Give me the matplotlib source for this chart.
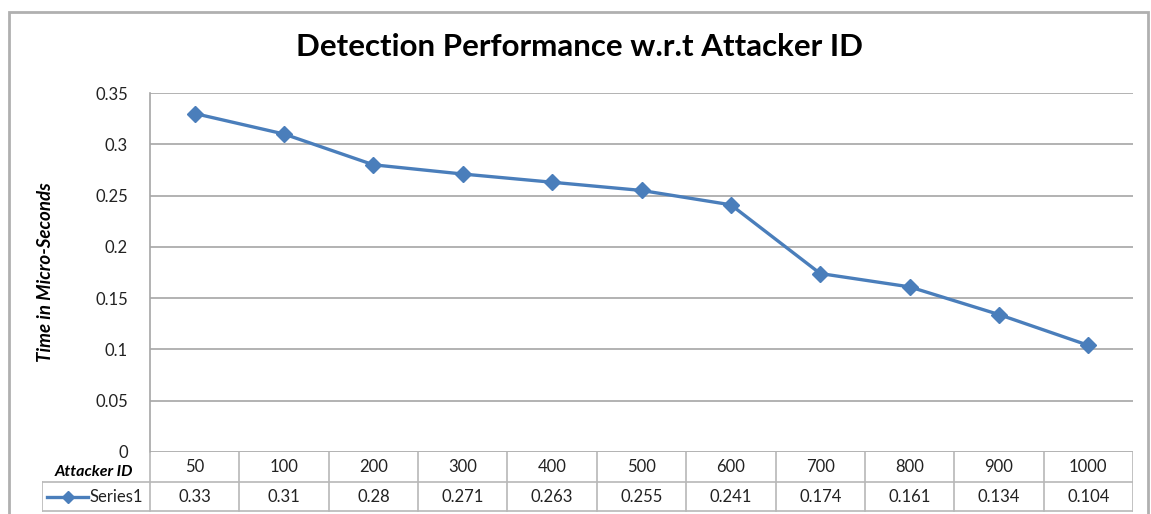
import matplotlib.pyplot as plt
from matplotlib.lines import Line2D

plt.rcParams['font.family'] = ['Lato', 'DejaVu Sans']

attacker_ids = ['50', '100', '200', '300', '400', '500', '600', '700', '800', '900', '1000']
times = [0.33, 0.31, 0.28, 0.271, 0.263, 0.255, 0.241, 0.174, 0.161, 0.134, 0.104]
series_name = 'Series1'
yticks = [0, 0.05, 0.1, 0.15, 0.2, 0.25, 0.3, 0.35]

W, H = 1151, 514
line_col = '#4a7ebb'
grid_col = '#a6a6a6'

fig = plt.figure(figsize=(W / 100, H / 100), dpi=100)

def px(x0, y0, x1, y1):
    return [x0 / W, 1 - y1 / H, (x1 - x0) / W, (y1 - y0) / H]

# outer chart border
fig.add_artist(plt.Rectangle((9 / W, -0.01), (1148 - 9) / W, 1 - 12 / H + 0.01,
                             transform=fig.transFigure, fill=False,
                             edgecolor='#b0b0b0', lw=2))

ax = fig.add_axes(px(150, 93, 1133, 452))
n = len(times)
xs = list(range(n))
ax.plot(xs, times, color=line_col, lw=2.4, marker='D', markersize=8.5,
        markerfacecolor=line_col, markeredgecolor=line_col)
ax.set_xlim(-0.5, n - 0.5)
ax.set_ylim(0, 0.35)
ax.set_yticks(yticks)
ax.set_yticklabels(['0', '0.05', '0.1', '0.15', '0.2', '0.25', '0.3', '0.35'])
ax.tick_params(axis='y', length=0, labelsize=12, pad=16, colors='#222222')
ax.set_xticks([])
ax.grid(axis='y', color=grid_col, lw=1.2)
ax.set_axisbelow(True)
for s in ['top', 'right', 'bottom']:
    ax.spines[s].set_visible(False)
ax.spines['left'].set_color(grid_col)
ax.spines['left'].set_linewidth(1.2)

fig.text(580 / W, 1 - 47 / H, 'Detection Performance w.r.t Attacker ID',
         ha='center', va='center', fontsize=22.5, fontweight='bold')
fig.text(46 / W, 1 - 272 / H, 'Time in Micro-Seconds', rotation=90,
         ha='center', va='center', fontsize=13.5, fontweight='bold', style='italic')

# data table below the plot
tab = fig.add_axes(px(42, 452, 1133, 512))
tab.set_xlim(42, 1133)
tab.set_ylim(512, 452)
tab.axis('off')
colw = (1133 - 150) / n
tcol = '#b8b8b8'
tab.plot([150, 1133], [482, 482], color=tcol, lw=1.2)
tab.plot([42, 1133], [511, 511], color=tcol, lw=1.2)
tab.plot([42, 150], [482, 482], color=tcol, lw=1.2)
tab.plot([42, 42], [482, 511], color=tcol, lw=1.2)
for i in range(n + 1):
    xb = 150 + i * colw
    tab.plot([xb, xb], [452, 511], color=tcol, lw=1.2)
for i in range(n):
    xc = 150 + (i + 0.5) * colw
    tab.text(xc, 467, attacker_ids[i], ha='center', va='center', fontsize=12, color='#222222')
    tab.text(xc, 497, f'{times[i]:g}', ha='center', va='center', fontsize=12, color='#222222')
tab.text(133, 471.5, 'Attacker ID', ha='right', va='center', fontsize=11.5,
         fontweight='bold', style='italic')
tab.add_line(Line2D([47, 88], [497, 497], color=line_col, lw=2.4))
tab.add_line(Line2D([67.5], [497], color=line_col, marker='D', markersize=6,
                    markerfacecolor=line_col, markeredgecolor=line_col))
tab.text(89, 497, series_name, ha='left', va='center', fontsize=12, color='#222222')

fig.savefig('out.png', dpi=100)
